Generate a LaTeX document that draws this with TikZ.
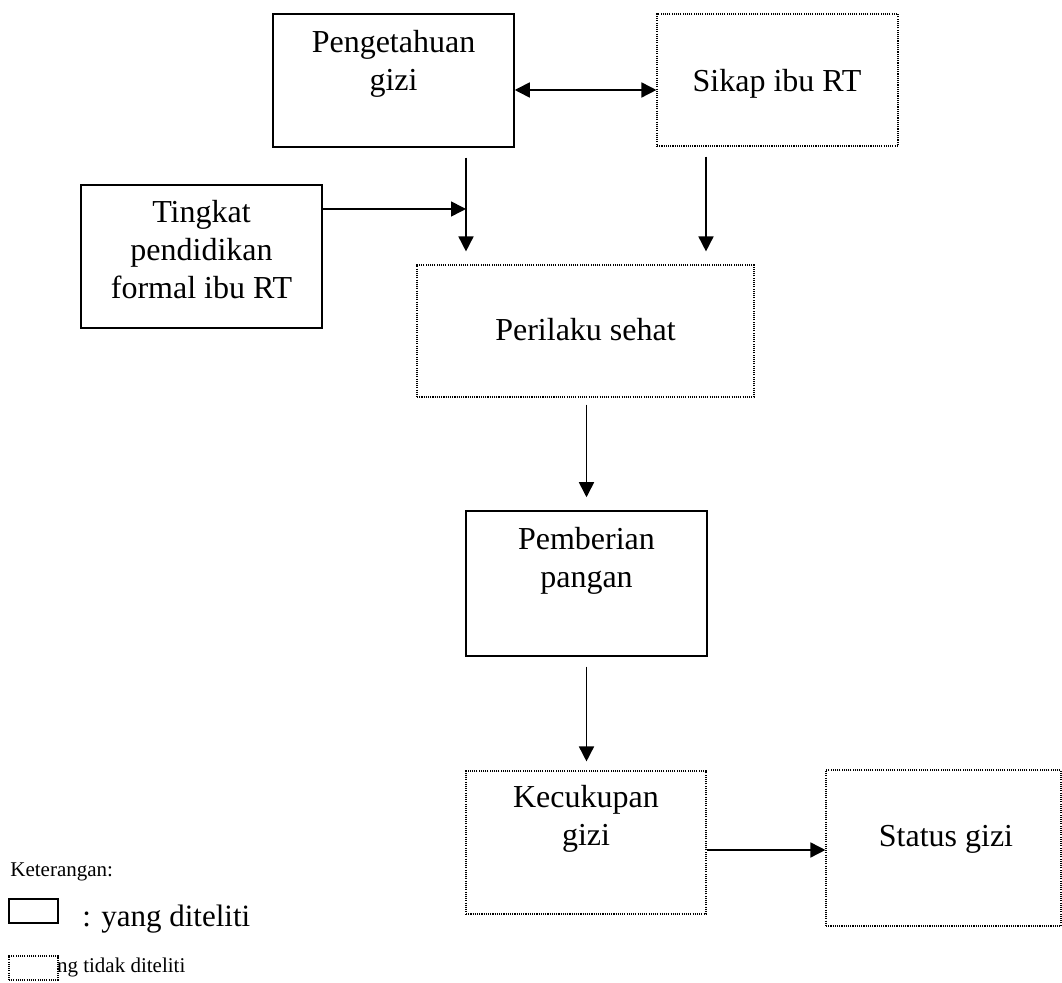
\documentclass[tikz,border=0pt]{standalone}
\usepackage{fontspec}
\setmainfont{Liberation Serif}
\usetikzlibrary{arrows.meta,calc}
\begin{document}
\begin{tikzpicture}[x=0.5pt,y=-0.5pt,
  solidbox/.style={draw,line width=0.75pt,rectangle,inner sep=0pt,fill=white},
  dotbox/.style={draw,line width=0.55pt,dash pattern=on 0.55pt off 0.55pt,rectangle,inner sep=0pt,fill=white},
  lbl/.style={font=\fontsize{16pt}{19pt}\selectfont,align=center,anchor=base,inner sep=0pt},
  arr/.style={line width=0.8pt,-{Triangle[length=7.5pt,width=7.5pt]}},
  darr/.style={line width=0.8pt,{Triangle[length=7.5pt,width=7.5pt]}-{Triangle[length=7.5pt,width=7.5pt]}}]
\useasboundingbox (0,0) rectangle (1062,983);

% boxes
\node[solidbox,minimum width=120.5pt,minimum height=66.5pt] (peng) at (393.5,80.5) {};
\node[dotbox,minimum width=120.5pt,minimum height=66pt] (sikap) at (777.5,80) {};
\node[solidbox,minimum width=120.5pt,minimum height=71.5pt] (tingkat) at (201.5,256.5) {};
\node[dotbox,minimum width=168.5pt,minimum height=66pt] (peril) at (585.5,331) {};
\node[solidbox,minimum width=120.5pt,minimum height=72.5pt] (pemb) at (586.5,583.5) {};
\node[dotbox,minimum width=120pt,minimum height=71.5pt] (kecuk) at (586,842.5) {};
\node[dotbox,minimum width=117.5pt,minimum height=78pt] (status) at (943.5,848) {};

% texts (anchor base = baseline of the last line)
\node[lbl] (tpeng) at (393.5,91) {Pengetahuan\\gizi};
\node[lbl] (tsikap) at (777,92) {Sikap ibu RT};
\node[lbl] (ttingkat) at (201.5,299) {Tingkat\\pendidikan\\formal ibu RT};
\node[lbl] (tperil) at (585.5,341) {Perilaku sehat};
\node[lbl] (tpemb) at (586.5,588) {Pemberian\\pangan};
\node[lbl] (tkecuk) at (586,846) {Kecukupan\\gizi};
\node[lbl] (tstatus) at (946,847) {Status gizi};

% connectors
\coordinate (j1) at (466,209);
\coordinate (j2) at (706,209);
\draw[darr] (peng.east |- 0,90) -- (sikap.west |- 0,90);
\draw[arr] ($(peng.south -| j1)+(0,10)$) -- ($(peril.north -| j1)+(0,-13)$);
\draw[arr] (tingkat.east |- j1) -- (j1);
\draw[arr] ($(sikap.south -| j2)+(0,10)$) -- ($(peril.north -| j2)+(0,-13)$);
\draw[arr] ($(peril.south -| pemb.north)+(0,7)$) -- ($(pemb.north)+(0,-13)$);
\draw[arr] ($(pemb.south)+(0,10)$) -- ($(kecuk.north -| pemb.south)+(0,-9)$);
\draw[arr] (kecuk.east |- 0,850) -- (status.west |- 0,850);

% legend
\node[font=\fontsize{10.5pt}{12pt}\selectfont,anchor=base west,inner sep=0pt] (ket) at (10,877) {Keterangan:};
\node[solidbox,minimum width=24.5pt,minimum height=12pt] (legsolid) at (33.5,911) {};
\node[font=\fontsize{15.5pt}{18pt}\selectfont,anchor=base west,inner sep=0pt] (legsolidtxt) at (82,927) {: yang diteliti};
\node[font=\fontsize{10.5pt}{12pt}\selectfont,anchor=base west,inner sep=0pt] (legdottxt) at (24,973) {: yang tidak diteliti};
\node[dotbox,minimum width=24.5pt,minimum height=12pt] (legdot) at (33.5,968) {};
\end{tikzpicture}
\end{document}
